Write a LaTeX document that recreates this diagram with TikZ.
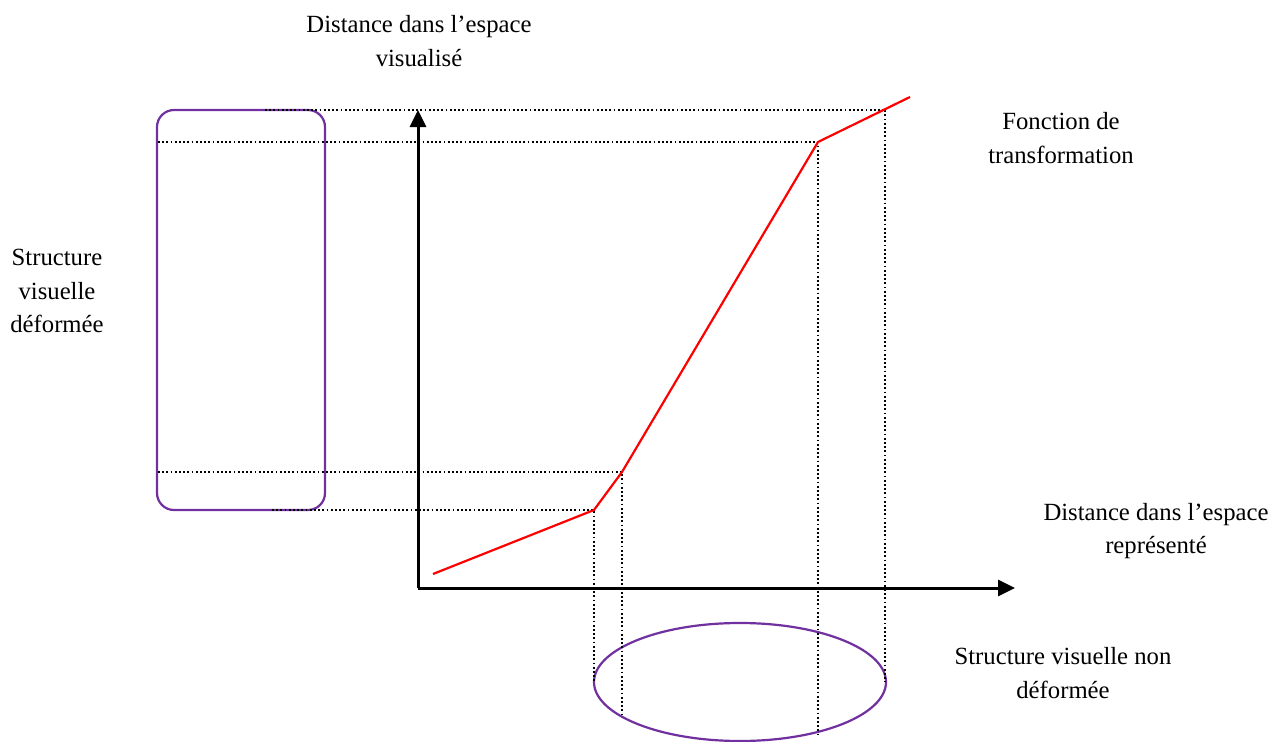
\documentclass[tikz,border=0pt]{standalone}
\usepackage{fontspec}
\setmainfont{Liberation Serif}
\usetikzlibrary{arrows.meta,shapes.geometric}
\definecolor{violetc}{HTML}{7030A0}
\tikzset{
  axis/.style={line width=3bp,-{Triangle[length=17bp,width=16bp]}},
  curve/.style={draw=red,line width=2.2bp},
  guide/.style={line width=2bp,dash pattern=on 1.8bp off 2.4bp},
  shapebox/.style={draw=violetc,line width=2.2bp},
  label/.style={font=\fontsize{24.8}{34}\selectfont,align=center,inner sep=0pt}
}
\begin{document}
\begin{tikzpicture}[x=1bp,y=-1bp]
\useasboundingbox (0,0) rectangle (1282,742);
\clip (0,0) rectangle (1282,742);
% structures
\node[shapebox,rounded corners=17bp,minimum width=168bp,minimum height=400bp,inner sep=0pt] (rect) at (241,310) {};
\node[shapebox,ellipse,minimum width=292bp,minimum height=118bp,inner sep=0pt] (ell) at (740,682) {};
% axes
\coordinate (O) at (418,588);
\coordinate (ytip) at (418,110);
\coordinate (xtip) at (1015,588);
% curve points
\coordinate (c0) at (433,574);
\coordinate (c1) at (594,510);
\coordinate (c2) at (622,472);
\coordinate (c3) at (818,142);
\coordinate (c5) at (910,97);
\coordinate (c4) at (885,109.3);
% guide ends
\coordinate (h4) at (265,110);
\coordinate (h3) at (158,142);
\coordinate (h2) at (158,472);
\coordinate (h1) at (272,510);
\coordinate (v1) at (594,682);
\coordinate (v2) at (622,717);
\coordinate (v3) at (818,736);
\coordinate (v4) at (885,682);
% guides
\draw[guide] (h4) -- (c4 |- h4) -- (c4) -- (v4);
\draw[guide] (h3) -- (c3) -- (v3);
\draw[guide] (h2) -- (c2) -- (v2);
\draw[guide] (h1) -- (c1) -- (v1);
% axes
\draw[axis] (O) -- (ytip);
\draw[axis] (O) -- (xtip);
% curve
\draw[curve] (c0) -- (c1) -- (c2) -- (c3) -- (c5);
% labels
\node[label] (ty) at (419,41) {Distance dans l’espace\\visualisé};
\node[label] (tf) at (1061,138) {Fonction de\\transformation};
\node[label] (ts) at (57,291) {Structure\\visuelle\\déformée};
\node[label] (tx) at (1156,531) {Distance dans l’espace\\représenté};
\node[label] (tn) at (1063,673) {Structure visuelle non\\déformée};
\end{tikzpicture}
\end{document}
